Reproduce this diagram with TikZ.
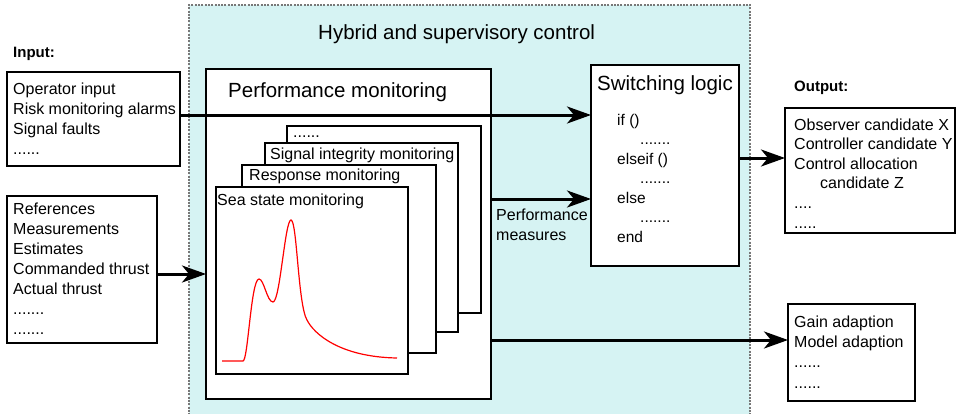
\documentclass[tikz,border=0pt]{standalone}
\usepackage{fontspec}
\setmainfont{Liberation Sans}
\usetikzlibrary{arrows.meta}
\definecolor{hybridfill}{RGB}{214,243,243}
\definecolor{hybridedge}{RGB}{120,120,120}
% a row of n full stops
\newcommand{\dotrow}[1]{\foreach\k in {1,...,#1}{.}}
\begin{document}
\begin{tikzpicture}[x=1pt,y=-1pt,
  box/.style={draw=black, fill=white, line width=1.3pt, anchor=north west,
    inner sep=0pt, outer sep=0pt},
  heavybox/.style={box, line width=2.9pt},
  txt/.style={anchor=base west, inner sep=0pt, font=\fontsize{16}{19}\selectfont},
  codetxt/.style={anchor=base west, inner sep=0pt, font=\fontsize{15.5}{18}\selectfont},
  ttl/.style={anchor=base west, inner sep=0pt, font=\fontsize{20.5}{24}\selectfont},
  lbl/.style={anchor=base west, inner sep=0pt, font=\fontsize{15}{18}\selectfont\bfseries},
  arr/.style={line width=3pt, -{Stealth[length=24pt, width=17pt, inset=7pt]}},
  hybborder/.style={draw=hybridedge, line width=1.3pt, dash pattern=on 2pt off 1.3pt}
]
\useasboundingbox (0,0) rectangle (956,413);

% supervisory region (open at the bottom)
\node[anchor=north west, fill=hybridfill, inner sep=0pt, outer sep=0pt,
      minimum width=561pt, minimum height=420pt] (hyb) at (189,5) {};
\draw[hybborder] (hyb.south west) -- (hyb.north west) -- (hyb.north east) -- (hyb.south east);
\node[ttl] (hybT) at (318,39) {Hybrid and supervisory control};

% inputs
\node[lbl] (inL) at (13,57) {Input:};
\node[box, minimum width=173pt, minimum height=94pt] (in1) at (7,72) {};
\foreach \t [count=\i] in {Operator input, Risk monitoring alarms, Signal faults, \dotrow{6}}
  \node[txt] (inA-\i) at (13,{94+20*(\i-1)}) {\t};
\node[box, minimum width=150pt, minimum height=147pt] (in2) at (7,196) {};
\foreach \t [count=\i] in {References, Measurements, Estimates, Commanded thrust, Actual thrust, \dotrow{7}, \dotrow{7}}
  \node[txt] (inB-\i) at (13,{214+20*(\i-1)}) {\t};

% performance monitoring with stacked monitors
\node[heavybox, minimum width=285pt, minimum height=330pt] (pm) at (206,69) {};
\node[ttl] (pmT) at (228,97) {Performance monitoring};
\node[box, minimum width=194pt, minimum height=187pt] (card4) at (287,126) {};
\node[txt] (card4T) at (293,137) {\dotrow{6}};
\node[box, minimum width=193pt, minimum height=189pt] (sig) at (265,143) {};
\node[txt] (sigT) at (270,159) {Signal integrity monitoring};
\node[box, minimum width=194pt, minimum height=188pt] (res) at (242,165) {};
\node[txt] (resT) at (249,180) {Response monitoring};
\node[box, minimum width=192pt, minimum height=187pt] (sea) at (216,187) {};
\node[txt] (seaT) at (217,205) {Sea state monitoring};
% two-peaked wave spectrum
\draw[red, line width=1.2pt]
  (222,361) -- (243,361)
  .. controls (248,361) and (251,279) .. (259,279)
  .. controls (264,279) and (267,302) .. (273,302)
  .. controls (280,302) and (285,220) .. (291,220)
  .. controls (297,220) and (298,305) .. (307,320)
  .. controls (314,334) and (340,357) .. (397,358);

% switching logic
\node[heavybox, minimum width=148pt, minimum height=201pt] (sw) at (591,65) {};
\node[ttl] (swT) at (597,90) {Switching logic};
\foreach \t/\x [count=\i] in {if ()/617, \dotrow{7}/640, elseif ()/617, \dotrow{7}/640, else/617, \dotrow{7}/640, end/617}
  \node[codetxt] (swL-\i) at (\x,{125+19.5*(\i-1)}) {\t};

\node[txt] (pmeas1) at (496,220) {Performance};
\node[txt] (pmeas2) at (496,240) {measures};

% outputs
\node[lbl] (outL) at (794,91) {Output:};
\node[box, minimum width=170pt, minimum height=125pt] (out) at (785,108) {};
\foreach \t/\x [count=\i] in {Observer candidate X/794, Controller candidate Y/794, Control allocation/794, candidate Z/820, \dotrow{4}/794, \dotrow{5}/794}
  \node[txt] (outA-\i) at (\x,{130+19.6*(\i-1)}) {\t};
\node[box, minimum width=127pt, minimum height=97pt] (gain) at (788,304) {};
\foreach \t [count=\i] in {Gain adaption, Model adaption, \dotrow{6}, \dotrow{6}}
  \node[txt] (gainA-\i) at (794,{327.5+20.2*(\i-1)}) {\t};

% signal flow
\draw[arr] ([yshift=4pt]in1.east) coordinate (a1) -- (a1 -| sw.west);
\draw[arr] ([yshift=-4.5pt]in2.east) coordinate (a2) -- (a2 -| pm.west);
\draw[arr] ([yshift=35pt]pm.east) coordinate (a3) -- (a3 -| sw.west);
\draw[arr] ([yshift=7.5pt]sw.east) coordinate (a4) -- (a4 -| out.west);
\coordinate (a5) at ([yshift=12.5pt]gain.west);
\draw[arr] (a5 -| pm.east) -- (a5);
\end{tikzpicture}
\end{document}
